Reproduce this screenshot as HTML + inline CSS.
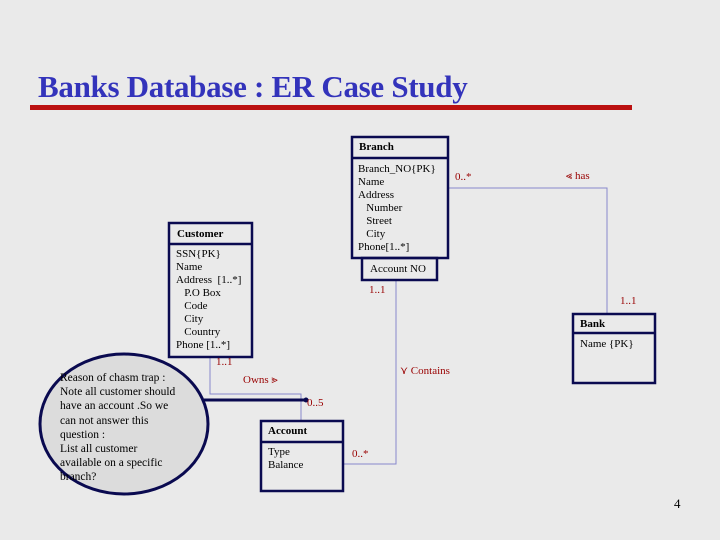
<!DOCTYPE html>
<html><head><meta charset="utf-8"><style>
body{margin:0;width:720px;height:540px;background:#eaeaea;overflow:hidden;position:relative;font-family:"Liberation Serif",serif}
.t{position:absolute;white-space:pre;font-size:11px;color:#000;line-height:13px}
.r{color:#990000;font-size:11px}
</style></head><body>
<div class="t" style="left:38px;top:68px;font-size:31px;line-height:38px;font-weight:bold;color:#3333bb;letter-spacing:-0.3px">Banks Database : ER Case Study</div>
<div style="position:absolute;left:30px;top:105px;width:602px;height:5px;background:#bb1111"></div>
<svg width="720" height="540" style="position:absolute;left:0;top:0">
<g fill="none" stroke="#8888cc" stroke-width="1">
<polyline points="210,357 210,394 301,394 301,421"/>
<polyline points="396,280 396,464 343,464"/>
<polyline points="448,188 607,188 607,314"/>
</g>
<ellipse cx="124" cy="424" rx="84" ry="70" fill="#dcdcdc" stroke="#0a0a50" stroke-width="3"/>
<line x1="204" y1="400" x2="306" y2="400" stroke="#0a0a50" stroke-width="3"/>
<circle cx="306" cy="400" r="2.5" fill="#0a0a50"/>
<g fill="none" stroke="#0a0a50" stroke-width="2.5">
<rect x="352" y="137" width="96" height="121"/><line x1="352" y1="158" x2="448" y2="158"/>
<rect x="362" y="258" width="75" height="22"/>
<rect x="169" y="223" width="83" height="134"/><line x1="169" y1="244" x2="252" y2="244"/>
<rect x="261" y="421" width="82" height="70"/><line x1="261" y1="442" x2="343" y2="442"/>
<rect x="573" y="314" width="82" height="69"/><line x1="573" y1="333" x2="655" y2="333"/>
</g>
</svg>
<div class="t" style="left:359px;top:141px;font-weight:bold">Branch</div>
<div class="t" style="left:358px;top:163px">Branch_NO{PK}
Name
Address
   Number
   Street
   City
Phone[1..*]</div>
<div class="t" style="left:370px;top:263px">Account NO</div>
<div class="t" style="left:177px;top:228px;font-weight:bold">Customer</div>
<div class="t" style="left:176px;top:248px">SSN{PK}
Name
Address  [1..*]
   P.O Box
   Code
   City
   Country
Phone [1..*]</div>
<div class="t" style="left:268px;top:425px;font-weight:bold">Account</div>
<div class="t" style="left:268px;top:446px">Type
Balance</div>
<div class="t" style="left:580px;top:318px;font-weight:bold">Bank</div>
<div class="t" style="left:580px;top:338px">Name {PK}</div>
<div class="t" style="left:60px;top:371px;font-size:11.5px;line-height:14.2px">Reason of chasm trap :
Note all customer should
have an account .So we
can not answer this
question :
List all customer
available on a specific
branch?</div>
<div class="t r" style="left:455px;top:171px">0..*</div>
<div class="t r" style="left:566px;top:170px">&#x2AA1; has</div>
<div class="t r" style="left:369px;top:284px">1..1</div>
<div class="t r" style="left:620px;top:295px">1..1</div>
<div class="t r" style="left:216px;top:356px">1..1</div>
<div class="t r" style="left:243px;top:374px">Owns &#x2AA2;</div>
<div class="t r" style="left:400px;top:365px">&#x22CE; Contains</div>
<div class="t r" style="left:307px;top:397px">0..5</div>
<div class="t r" style="left:352px;top:448px">0..*</div>
<div class="t" style="left:674px;top:497px;font-size:13px">4</div>
</body></html>
